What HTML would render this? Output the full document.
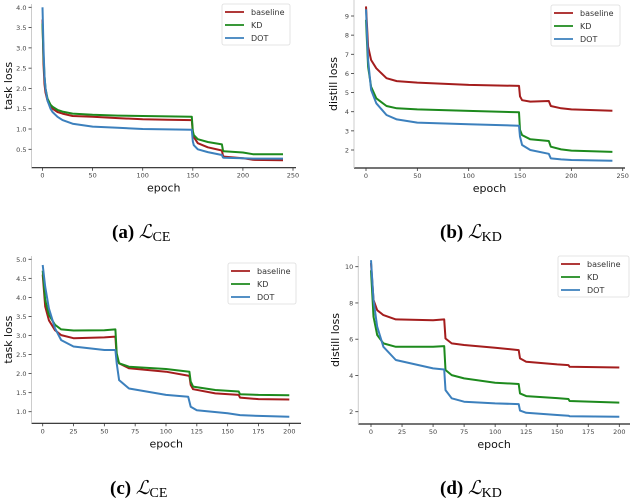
<!DOCTYPE html>
<html><head><meta charset="utf-8">
<style>
html,body{margin:0;padding:0;background:#fff;}
svg{display:block;}
.tk{font-family:"DejaVu Sans","Liberation Sans",sans-serif;font-size:6.5px;fill:#444;}
.lab{font-family:"DejaVu Sans","Liberation Sans",sans-serif;font-size:11px;fill:#111;}
.leg{font-family:"DejaVu Sans","Liberation Sans",sans-serif;font-size:8px;fill:#333;}
.cap{font-family:"Liberation Serif",serif;font-size:19px;fill:#000;}
</style></head>
<body>
<svg id="fig" width="632" height="498" viewBox="0 0 632 498" xmlns="http://www.w3.org/2000/svg">
<text class="cap" x="112" y="238"><tspan font-weight="bold">(a)</tspan> <tspan font-style="italic">ℒ</tspan><tspan font-size="14" dy="3">CE</tspan></text>
<text class="cap" x="440" y="238"><tspan font-weight="bold">(b)</tspan> <tspan font-style="italic">ℒ</tspan><tspan font-size="14" dy="3">KD</tspan></text>
<text class="cap" x="110" y="494"><tspan font-weight="bold">(c)</tspan> <tspan font-style="italic">ℒ</tspan><tspan font-size="14" dy="3">CE</tspan></text>
<text class="cap" x="440" y="494"><tspan font-weight="bold">(d)</tspan> <tspan font-style="italic">ℒ</tspan><tspan font-size="14" dy="3">KD</tspan></text>
</svg>
<script>
// ---- Panel A data (task loss) ----
const aEpochs = [0,1,2,3,5,8,10,15,20,30,50,75,100,125,149,150,151,155,165,179,180,181,200,210,240];
const aBaseline = [3.7,2.6,2.1,1.9,1.7,1.55,1.5,1.42,1.38,1.32,1.3,1.27,1.24,1.23,1.22,0.9,0.8,0.65,0.55,0.47,0.35,0.32,0.28,0.24,0.23];
const aKD = [3.6,2.8,2.3,2.0,1.75,1.6,1.55,1.47,1.43,1.38,1.35,1.33,1.32,1.31,1.3,0.95,0.85,0.75,0.68,0.62,0.48,0.45,0.42,0.38,0.38];
const aDOT = [4.0,3.0,2.3,2.0,1.7,1.5,1.42,1.3,1.22,1.13,1.06,1.03,1.0,0.99,0.98,0.7,0.6,0.5,0.43,0.36,0.3,0.29,0.28,0.27,0.27];
const aXTicks = [0,50,100,150,200,250];
const aYTicks = [0.5,1.0,1.5,2.0,2.5,3.0,3.5,4.0];
// ---- Panel B data (distill loss) ----
const bEpochs = [0,2,5,10,20,30,50,100,149,150,152,160,178,180,190,200,240];
const bBaseline = [9.5,7.4,6.7,6.27,5.75,5.6,5.52,5.4,5.35,4.8,4.6,4.53,4.56,4.3,4.18,4.12,4.05];
const bKD = [8.8,6.35,5.3,4.7,4.3,4.18,4.12,4.04,3.97,3.05,2.78,2.56,2.47,2.17,2.03,1.97,1.9];
const bDOT = [9.35,6.7,5.14,4.44,3.83,3.6,3.43,3.34,3.27,2.7,2.26,2.0,1.8,1.56,1.51,1.48,1.44];
const bXTicks = [0,50,100,150,200,250];
const bYTicks = [2,3,4,5,6,7,8,9];
// ---- Panel C data (task loss) ----
const cEpochs = [0,2,5,10,15,25,50,59,60,62,70,100,119,120,122,140,159,160,175,200];
const cBaseline = [4.6,3.76,3.4,3.14,3.01,2.93,2.95,2.97,2.44,2.27,2.14,2.05,1.94,1.7,1.59,1.48,1.44,1.37,1.33,1.32];
const cKD = [4.7,3.93,3.54,3.28,3.16,3.13,3.14,3.16,2.53,2.27,2.18,2.12,2.05,1.79,1.66,1.57,1.53,1.46,1.44,1.43];
const cDOTEpochs = [0,2,5,10,15,25,50,59,60,62,70,100,118,120,125,150,160,175,200];
const cDOT = [4.85,4.28,3.71,3.19,2.88,2.71,2.62,2.62,2.27,1.83,1.61,1.44,1.39,1.13,1.04,0.96,0.91,0.89,0.87];
const cXTicks = [0,25,50,75,100,125,150,175,200];
const cYTicks = [1.0,1.5,2.0,2.5,3.0,3.5,4.0,4.5,5.0];
// ---- Panel D data (distill loss) ----
const dEpochs = [0,2,5,10,20,50,59,60,65,75,100,119,120,125,150,159,160,200];
const dBaseline = [10.2,8.16,7.6,7.33,7.09,7.05,7.09,6.04,5.77,5.68,5.53,5.4,4.94,4.76,4.61,4.57,4.48,4.44];
const dKD = [9.8,7.24,6.23,5.77,5.58,5.58,5.62,4.3,4.02,3.84,3.6,3.53,3.01,2.86,2.75,2.7,2.59,2.5];
const dDOT = [10.36,8.16,6.69,5.58,4.85,4.39,4.33,3.19,2.74,2.55,2.46,2.42,2.06,1.94,1.82,1.78,1.75,1.72];
const dXTicks = [0,25,50,75,100,125,150,175,200];
const dYTicks = [2,4,6,8,10];

const seriesNames = ['baseline','KD','DOT'];
const colors = ['#a41d1d','#1d8a1d','#3c80bd'];
const NS='http://www.w3.org/2000/svg';
const svg=document.getElementById('fig');
function mk(tag,attrs,parent){const e=document.createElementNS(NS,tag);for(const k in attrs)e.setAttribute(k,attrs[k]);(parent||svg).appendChild(e);return e;}

function panel(id,g,xs,series,xt,yt,ylabel,fmt){
  const grp=mk('g',{});
  
  
  const X=v=>g.x0+(v-g.xa)*(g.x1-g.x0)/(g.xb-g.xa);
  const Y=v=>g.y0+(v-g.ya)*(g.y1-g.y0)/(g.yb-g.ya);
  const sp1=mk('line',{x1:g.left,y1:g.bottom,x2:g.right,y2:g.bottom,stroke:'#222','stroke-width':1.2},grp);
  
  
  const sp2=mk('line',{x1:g.left,y1:g.top,x2:g.left,y2:g.bottom,stroke:'#ccc','stroke-width':1},grp);
  
  
  xt.forEach(t=>{
    mk('line',{x1:X(t),y1:g.bottom,x2:X(t),y2:g.bottom+3,stroke:'#333','stroke-width':0.8},grp);
    const tx=mk('text',{class:'tk',x:X(t),y:g.bottom+10,'text-anchor':'middle'},grp);
    tx.textContent=String(t);
    
    
  });
  yt.forEach(t=>{
    mk('line',{x1:g.left-3,y1:Y(t),x2:g.left,y2:Y(t),stroke:'#333','stroke-width':0.8},grp);
    const tx=mk('text',{class:'tk',x:g.left-5,y:Y(t)+2.5,'text-anchor':'end'},grp);
    tx.textContent=fmt(t);
    
    
  });
  const xl=mk('text',{class:'lab',x:(g.left+g.right)/2,y:g.bottom+24,'text-anchor':'middle'},grp);
  xl.textContent='epoch';
  
  
  const yl=mk('text',{class:'lab',transform:`translate(${g.ylx},${(g.top+g.bottom)/2}) rotate(-90)`,'text-anchor':'middle'},grp);
  yl.textContent=ylabel;
  
  
  series.forEach((s,i)=>{
    const ex=s.x||xs;
    const pts=s.y.map((v,j)=>X(ex[j]).toFixed(1)+','+Y(v).toFixed(1)).join(' ');
    const pl=mk('polyline',{points:pts,fill:'none',stroke:colors[i],'stroke-width':2,'stroke-linejoin':'round'},grp);
    
    
  });
  const lg=mk('g',{},grp);
  
  
  mk('rect',{x:g.lx,y:g.ly,width:g.lw,height:41,rx:2,fill:'#fff',stroke:'#ddd','stroke-width':0.8},lg);
  seriesNames.forEach((n,i)=>{
    const yy=g.ly+8+i*13;
    mk('line',{x1:g.lx+3,y1:yy,x2:g.lx+22,y2:yy,stroke:colors[i],'stroke-width':1.8},lg);
    const t=mk('text',{class:'leg',x:g.lx+29,y:yy+3},lg);
    t.textContent=n;
    
    
  });
}
const f1=t=>t.toFixed(1), f0=t=>String(t);
panel('a',{x0:42.5,x1:293,xa:0,xb:250,y0:149.3,y1:7.3,ya:0.5,yb:4.0,left:31.5,right:296,top:4,bottom:167.7,ylx:12,lx:222,ly:4,lw:68},
  aEpochs,[{y:aBaseline},{y:aKD},{y:aDOT}],aXTicks,aYTicks,'task loss',f1);
panel('b',{x0:366,x1:622.7,xa:0,xb:250,y0:150,y1:16,ya:2,yb:9,left:354,right:625,top:0,bottom:168,ylx:337,lx:551,ly:5,lw:69},
  bEpochs,[{y:bBaseline},{y:bKD},{y:bDOT}],bXTicks,bYTicks,'distill loss',f0);
panel('c',{x0:42.7,x1:289.3,xa:0,xb:200,y0:411.7,y1:259.3,ya:1.0,yb:5.0,left:31.5,right:301,top:256,bottom:423.3,ylx:12,lx:228,ly:263,lw:68},
  cEpochs,[{y:cBaseline},{y:cKD},{x:cDOTEpochs,y:cDOT}],cXTicks,cYTicks,'task loss',f1);
panel('d',{x0:371,x1:619.3,xa:0,xb:200,y0:411.7,y1:266.7,ya:2,yb:10,left:358.3,right:630,top:256,bottom:424,ylx:339,lx:558,ly:256,lw:71},
  dEpochs,[{y:dBaseline},{y:dKD},{y:dDOT}],dXTicks,dYTicks,'distill loss',f0);
</script>
</body></html>
